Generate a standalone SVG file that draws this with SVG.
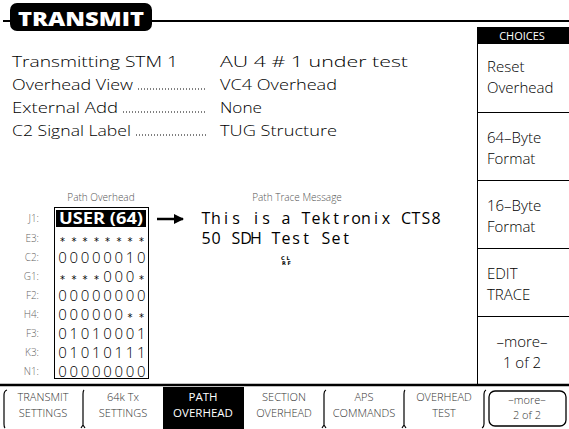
<svg xmlns="http://www.w3.org/2000/svg" width="569" height="429" viewBox="0 0 569 429">
<style>
  .t { font-family: "Open Sans", "DejaVu Sans", sans-serif; font-size: 15px; font-weight: 300; fill: #000; }
  .small { font-family: "Open Sans", "DejaVu Sans", sans-serif; font-size: 10px; font-weight: 300; fill: #555; }
  .lbl { font-family: "Open Sans", "DejaVu Sans", sans-serif; font-size: 10px; font-weight: 300; fill: #666; text-anchor: end; }
  .val { font-family: "Open Sans", "DejaVu Sans", sans-serif; font-size: 15px; font-weight: 300; fill: #000; text-anchor: middle; }
  .ast { font-family: "DejaVu Sans", sans-serif; font-size: 10px; fill: #000; text-anchor: middle; }
  .mono { font-family: "Open Sans", "DejaVu Sans", sans-serif; font-size: 16px; font-weight: 400; fill: #000; text-anchor: middle; }
  .tab { font-family: "Open Sans", "DejaVu Sans", sans-serif; font-size: 11px; font-weight: 300; fill: #333; text-anchor: middle; }
  .tabw { font-family: "Open Sans", "DejaVu Sans", sans-serif; font-size: 11.5px; fill: #fff; text-anchor: middle; }
  .ch { font-family: "Open Sans", "DejaVu Sans", sans-serif; font-size: 15px; font-weight: 300; fill: #000; }
  .dots { stroke: #000; stroke-width: 1; stroke-dasharray: 1 2; fill: none; }
  .sep { stroke: #000; stroke-width: 1.2; fill: none; }
</style>
<defs>
  <marker id="ah" viewBox="0 0 10 10" refX="9" refY="5" markerWidth="4" markerHeight="4" orient="auto" markerUnits="strokeWidth">
    <path d="M0,0 L10,5 L0,10 z" fill="#000"/>
  </marker>
</defs>
<rect x="0" y="0" width="569" height="429" fill="#fff"/>

<g id="title">
  <line x1="3" y1="21" x2="569" y2="21" stroke="#000" stroke-width="2"/>
  <rect x="10" y="3" width="142" height="28" rx="7" fill="#000"/>
  <text x="18" y="26" font-family="'Open Sans', 'DejaVu Sans', sans-serif" font-size="20" font-weight="800" fill="#fff" textLength="126" lengthAdjust="spacingAndGlyphs">TRANSMIT</text>
</g>

<g id="settings">
  <text class="t" x="12" y="67" textLength="166" lengthAdjust="spacingAndGlyphs">Transmitting STM  1</text>
  <text class="t" x="220" y="67" textLength="188" lengthAdjust="spacingAndGlyphs">AU  4 # 1  under test</text>
  <text class="t" x="12" y="90" textLength="121" lengthAdjust="spacingAndGlyphs">Overhead View</text>
  <line class="dots" x1="138" y1="89" x2="206" y2="89"/>
  <text class="t" x="220" y="90" textLength="117" lengthAdjust="spacingAndGlyphs">VC4 Overhead</text>
  <text class="t" x="12" y="113" textLength="106" lengthAdjust="spacingAndGlyphs">External Add</text>
  <line class="dots" x1="123" y1="112" x2="206" y2="112"/>
  <text class="t" x="220" y="113" textLength="42" lengthAdjust="spacingAndGlyphs">None</text>
  <text class="t" x="12" y="136" textLength="119" lengthAdjust="spacingAndGlyphs">C2 Signal Label</text>
  <line class="dots" x1="136" y1="135" x2="206" y2="135"/>
  <text class="t" x="220" y="136" textLength="117" lengthAdjust="spacingAndGlyphs">TUG Structure</text>
</g>

<g id="choices">
  <rect x="477" y="27" width="92" height="17" fill="#000"/>
  <text x="522" y="40" font-family="'Open Sans', 'DejaVu Sans', sans-serif" font-size="11" fill="#fff" text-anchor="middle">CHOICES</text>
  <line x1="477.5" y1="44" x2="477.5" y2="384" stroke="#000" stroke-width="1"/>
  <line x1="477" y1="112.5" x2="569" y2="112.5" stroke="#000" stroke-width="1"/>
  <line x1="477" y1="180.5" x2="569" y2="180.5" stroke="#000" stroke-width="1"/>
  <line x1="477" y1="248.5" x2="569" y2="248.5" stroke="#000" stroke-width="1"/>
  <line x1="477" y1="316.5" x2="569" y2="316.5" stroke="#000" stroke-width="1"/>
  <text class="ch" x="487" y="72">Reset</text>
  <text class="ch" x="487" y="93">Overhead</text>
  <text class="ch" x="487" y="143">64–Byte</text>
  <text class="ch" x="487" y="164">Format</text>
  <text class="ch" x="487" y="211">16–Byte</text>
  <text class="ch" x="487" y="232">Format</text>
  <text class="ch" x="487" y="279">EDIT</text>
  <text class="ch" x="487" y="300">TRACE</text>
  <text class="ch" x="522" y="347" text-anchor="middle">–more–</text>
  <text class="ch" x="522" y="368" text-anchor="middle">1 of 2</text>
</g>

<g id="path-overhead">
  <text class="small" x="101" y="201" text-anchor="middle">Path Overhead</text>
  <rect x="54.5" y="207.5" width="94" height="171" fill="none" stroke="#000" stroke-width="1"/>
  <rect x="56" y="210" width="90" height="17" fill="#000"/>
  <text x="101" y="224" font-family="'Open Sans', 'DejaVu Sans', sans-serif" font-size="16" font-weight="700" fill="#fff" text-anchor="middle" textLength="84" lengthAdjust="spacingAndGlyphs">USER (64)</text>
  <text class="lbl" x="39" y="222">J1:</text>
  <text class="lbl" x="39" y="242">E3:</text>
  <text class="lbl" x="39" y="261">C2:</text>
  <text class="lbl" x="39" y="280">G1:</text>
  <text class="lbl" x="39" y="299">F2:</text>
  <text class="lbl" x="39" y="318">H4:</text>
  <text class="lbl" x="39" y="337">F3:</text>
  <text class="lbl" x="39" y="356">K3:</text>
  <text class="lbl" x="39" y="375">N1:</text>
  <text class="ast" x="62.6 73.9 85.1 96.4 107.6 118.9 130.1 141.4" y="245">********</text>
  <text class="val" x="62.6 73.9 85.1 96.4 107.6 118.9 130.1 141.4" y="263">00000010</text>
  <text class="ast" x="62.6 73.9 85.1 96.4" y="283">****</text>
  <text class="val" x="107.6 118.9 130.1" y="282">000</text>
  <text class="ast" x="141.4" y="283">*</text>
  <text class="val" x="62.6 73.9 85.1 96.4 107.6 118.9 130.1 141.4" y="301">00000000</text>
  <text class="val" x="62.6 73.9 85.1 96.4 107.6 118.9" y="320">000000</text>
  <text class="ast" x="130.1 141.4" y="321">**</text>
  <text class="val" x="62.6 73.9 85.1 96.4 107.6 118.9 130.1 141.4" y="339">01010001</text>
  <text class="val" x="62.6 73.9 85.1 96.4 107.6 118.9 130.1 141.4" y="358">01010111</text>
  <text class="val" x="62.6 73.9 85.1 96.4 107.6 118.9 130.1 141.4" y="377">00000000</text>
</g>

<g id="connectors">
  <line x1="157" y1="219" x2="183" y2="219" stroke="#000" stroke-width="2.5" marker-end="url(#ah)"/>
</g>

<g id="path-trace">
  <text class="small" x="297" y="201" text-anchor="middle">Path Trace Message</text>
  <text class="mono" x="206 216 226 236 246 256 266 276 286 296 306 316 326 336 346 356 366 376 386 396 406 416 426 436" y="224">This is a Tektronix CTS8</text>
  <text class="mono" x="206 216 226 236 246 256 266 276 286 296 306 316 326 336 346" y="244">50 SDH Test Set</text>
  <text x="281" y="260" font-family="'DejaVu Sans', sans-serif" font-size="5" font-weight="700" fill="#000">C L</text>
  <text x="282" y="265" font-family="'DejaVu Sans', sans-serif" font-size="5" font-weight="700" fill="#000">R F</text>
</g>

<g id="tabs">
  <line x1="0" y1="385" x2="569" y2="385" stroke="#000" stroke-width="2.5"/>
  <rect x="163" y="387" width="81" height="42" fill="#000"/>
  <path class="sep" d="M7,390 Q4,391 4,395 V424 Q4,427 5,428"/>
  <path class="sep" d="M84,390 Q83,391 83,394 V425 M81,428 L83,425 L85,428"/>
  <path class="sep" d="M326,390 Q324,391 324,394 V425 M322,428 L324,425 L326,428"/>
  <path class="sep" d="M405,390 Q404,391 404,394 V425 M402,428 L404,425 L406,428"/>
  <path class="sep" d="M486,390 Q484,391 484,394 V424 Q484,427 482,428"/>
  <rect x="489" y="391" width="77" height="35" rx="6" fill="none" stroke="#000" stroke-width="1.3"/>
  <text class="tab" x="43" y="401">TRANSMIT</text>
  <text class="tab" x="43" y="417">SETTINGS</text>
  <text class="tab" x="123" y="401">64k Tx</text>
  <text class="tab" x="123" y="417">SETTINGS</text>
  <text class="tabw" x="203" y="401">PATH</text>
  <text class="tabw" x="203" y="417">OVERHEAD</text>
  <text class="tab" x="284" y="401">SECTION</text>
  <text class="tab" x="284" y="417">OVERHEAD</text>
  <text class="tab" x="364" y="401">APS</text>
  <text class="tab" x="364" y="417">COMMANDS</text>
  <text class="tab" x="444" y="401">OVERHEAD</text>
  <text class="tab" x="444" y="417">TEST</text>
  <text class="tab" x="527" y="404">–more–</text>
  <text class="tab" x="527" y="419">2 of 2</text>
</g>
</svg>
